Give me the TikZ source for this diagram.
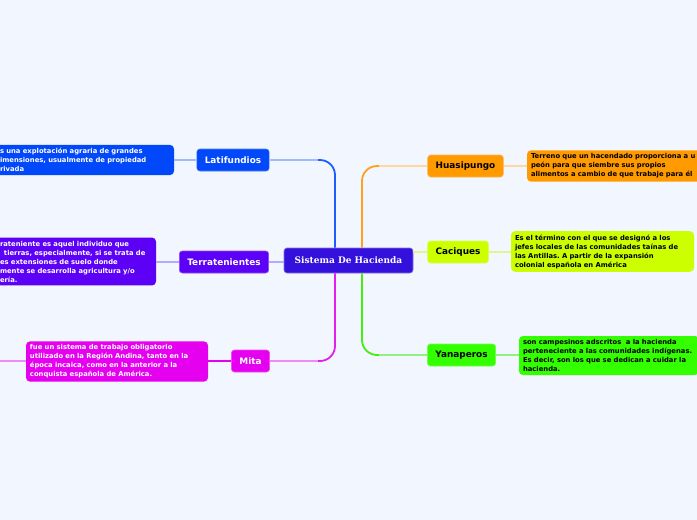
\documentclass[tikz,border=0pt]{standalone}
\usepackage{fontspec}
\usetikzlibrary{positioning}
\newfontfamily\mapfont{DejaVu Sans}
\newfontfamily\hubfont{DejaVu Serif}
\frenchspacing
\definecolor{bgc}{RGB}{242,246,254}
\definecolor{hubc}{RGB}{52,16,220}
\definecolor{latc}{RGB}{0,72,250}
\definecolor{latbr}{RGB}{30,92,255}
\definecolor{latlt}{RGB}{160,186,255}
\definecolor{terc}{RGB}{92,0,246}
\definecolor{terlt}{RGB}{184,166,255}
\definecolor{mitc}{RGB}{230,0,240}
\definecolor{mitbr}{RGB}{226,30,240}
\definecolor{mitlt}{RGB}{238,140,246}
\definecolor{huac}{RGB}{255,154,0}
\definecolor{huabr}{RGB}{255,160,32}
\definecolor{hualt}{RGB}{255,216,160}
\definecolor{caqc}{RGB}{204,255,0}
\definecolor{caqlt}{RGB}{222,246,140}
\definecolor{yanc}{RGB}{51,255,0}
\definecolor{yanbr}{RGB}{68,238,17}
\definecolor{yanlt}{RGB}{150,240,128}

\begin{document}
\begin{tikzpicture}[x=1pt,y=-1pt,
hub/.style={rounded corners=3pt,fill=hubc,draw=hubc!60!white,line width=0.6pt,text=white,minimum height=25pt,minimum width=129pt,font=\hubfont\bfseries\fontsize{9}{10}\selectfont},
topic/.style={rounded corners=3pt,line width=0.6pt,minimum height=22pt,inner xsep=8pt,font=\mapfont\bfseries\fontsize{8.9}{10}\selectfont},
note/.style={rounded corners=4pt,line width=0.6pt,inner xsep=4pt,align=left,font=\mapfont\bfseries\fontsize{6.8}{9}\selectfont},
branch/.style={line width=1.8pt,rounded corners=15pt},
twig/.style={line width=1.3pt}]

\path[use as bounding box,fill=bgc] (0,0) rectangle (697,520);
\clip (0,0) rectangle (697,520);

\node[hub] (hub) at (348.5,260.5) {Sistema De Hacienda};

\node[topic,fill=latc,draw=latc!70!white,text=white] (lat) at (233,160) {Latifundios};
\node[topic,fill=terc,draw=terc!70!white,text=white] (ter) at (224,262) {Terratenientes};
\node[topic,fill=mitc,draw=mitc!70!white,text=white] (mita) at (250.5,361) {Mita};
\node[topic,fill=huac,draw=huac!70!white] (hua) at (465.5,166) {Huasipungo};
\node[topic,fill=caqc,draw=caqc!70!white] (caq) at (458,252) {Caciques};
\node[topic,fill=yanc,draw=yanc!70!white] (yan) at (461.5,355) {Yanaperos};

\node[note,fill=latc,text=white,minimum width=178pt,minimum height=30pt,text width=170pt] (latd) at (85,160)
{s una explotación agraria de grandes\\imensiones, usualmente de propiedad\\rivada};
\node[note,fill=terc,text=white,minimum width=160pt,minimum height=47pt,text width=152pt] (terd) at (76,261.5)
{rateniente es aquel individuo que\\\hspace*{4pt}tierras, especialmente, si se trata de\\es extensiones de suelo donde\\mente se desarrolla agricultura y/o\\ería.};
\node[note,fill=mitc,text=white,minimum width=182pt,minimum height=39pt,text width=174pt] (mitad) at (117,361.5)
{fue un sistema de trabajo obligatorio\\utilizado en la Región Andina, tanto en la\\época incaica, como en la anterior a la\\conquista española de América.};
\node[note,fill=huac,minimum width=186pt,minimum height=30pt,text width=178pt] (huad) at (620,166)
{Terreno que un hacendado proporciona a u\\peón para que siembre sus propios\\alimentos a cambio de que trabaje para él};
\node[note,fill=caqc,minimum width=183pt,minimum height=39pt,text width=175pt] (caqd) at (602.5,251.5)
{Es el término con el que se designó a los\\jefes locales de las comunidades taínas de\\las Antillas. A partir de la expansión\\colonial española en América};
\node[note,fill=yanc,minimum width=180pt,minimum height=39pt,text width=172pt] (yand) at (609,355.5)
{son campesinos adscritos~ a la hacienda\\perteneciente a las comunidades indígenas.\\Es decir, son los que se dedican a cuidar la\\hacienda.};

\coordinate (latk) at (318,160);
\coordinate (mitk) at (318,361);
\coordinate (huak) at (379,166);
\coordinate (yank) at (379,355);
\coordinate (mitaout) at (-5,361);

\draw[branch,latbr] ([xshift=-13.5pt]hub.north) |- (latk);
\draw[twig,latlt] (latk) -- (lat.east);
\draw[twig,terlt] (ter.east) -- (ter.east -| hub.west);
\draw[branch,mitbr] ([xshift=-13.5pt]hub.south) |- (mitk);
\draw[twig,mitlt] (mitk) -- (mita.east);
\draw[branch,huabr] ([xshift=13.5pt]hub.north) |- (huak);
\draw[twig,hualt] (huak) -- (hua.west);
\draw[twig,caqlt] (hub.east |- caq.west) -- (caq.west);
\draw[branch,yanbr] ([xshift=13.5pt]hub.south) |- (yank);
\draw[twig,yanlt] (yank) -- (yan.west);

\draw[twig,latlt] (lat.west) -- (latd.east);
\draw[twig,terlt] (ter.west) -- (ter.west -| terd.east);
\draw[twig,mitc] (mita.west) -- (mita.west -| mitad.east);
\draw[twig,mitlt] (mitad.west |- mitaout) -- (mitaout);
\draw[twig,hualt] (hua.east) -- (huad.west);
\draw[twig,caqlt] (caq.east) -- (caq.east -| caqd.west);
\draw[twig,yanlt] (yan.east) -- (yan.east -| yand.west);

\end{tikzpicture}
\end{document}
